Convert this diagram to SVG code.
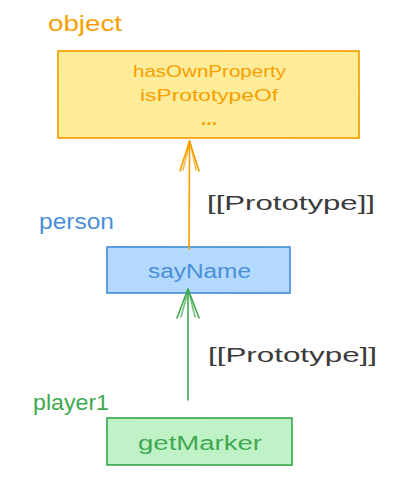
<svg xmlns="http://www.w3.org/2000/svg" width="418" height="503" viewBox="0 0 418 503">
<style>
text{font-family:"Liberation Sans","DejaVu Sans",sans-serif;}
.o{fill:#f59f00;}
.b{fill:#4a8fd8;}
.g{fill:#40a850;}
.d{fill:#3a3a3a;}
.con{fill:none;stroke-width:1.6;stroke-linecap:round;stroke-linejoin:round;}
</style>
<rect width="418" height="503" fill="#ffffff"/>
<g id="object">
<text class="o" x="48" y="31" font-size="22" textLength="74" lengthAdjust="spacingAndGlyphs">object</text>
<rect x="58" y="51" width="301" height="87" fill="#ffec99" stroke="#f59f00" stroke-width="1.6"/>
<path d="M59 50.5 L358 51.5 M57.5 52 L58.5 137 M358.5 50 L359.5 138 M57 137.5 L360 138.5" fill="none" stroke="#f59f00" stroke-width="0.8" opacity="0.6"/>
<text class="o" x="209.5" y="77" font-size="17" text-anchor="middle" textLength="153" lengthAdjust="spacingAndGlyphs">hasOwnProperty</text>
<text class="o" x="209" y="101" font-size="17" text-anchor="middle" textLength="138" lengthAdjust="spacingAndGlyphs">isPrototypeOf</text>
<text class="o" x="209" y="125" font-size="19" font-weight="bold" text-anchor="middle">...</text>
</g>
<g id="person">
<text class="b" x="39" y="229" font-size="22" textLength="75" lengthAdjust="spacingAndGlyphs">person</text>
<rect x="107" y="247" width="183" height="46" fill="#b3d9ff" stroke="#4a8fd8" stroke-width="1.6"/>
<path d="M108 246.5 L289 247.5 M106.5 248 L107.5 292 M289.5 246 L290.5 293 M106 292.5 L291 293.5" fill="none" stroke="#4a8fd8" stroke-width="0.8" opacity="0.6"/>
<text class="b" x="199.5" y="278" font-size="20" text-anchor="middle" textLength="103" lengthAdjust="spacingAndGlyphs">sayName</text>
</g>
<g id="player1">
<text class="g" x="33" y="410" font-size="22" textLength="76" lengthAdjust="spacingAndGlyphs">player1</text>
<rect x="107" y="418" width="185" height="47" fill="#c0f2c8" stroke="#40a850" stroke-width="1.6"/>
<path d="M108 417.5 L291 418.5 M106.5 419 L107.5 464 M291.5 417 L292.5 465 M106 464.5 L293 465.5" fill="none" stroke="#40a850" stroke-width="0.8" opacity="0.6"/>
<text class="g" x="200" y="450" font-size="20" text-anchor="middle" textLength="124" lengthAdjust="spacingAndGlyphs">getMarker</text>
</g>
<g id="connectors">
<g stroke="#f59f00">
<path class="con" d="M189 249 L189.5 141"/>
<path class="con" d="M180 171 L189.5 141 L199 171"/>
<path class="con" d="M183 170 L190 142 L196 170" stroke-width="0.8" opacity="0.7"/>
</g>
<text class="d" x="207" y="210" font-size="20" textLength="168" lengthAdjust="spacingAndGlyphs">[[Prototype]]</text>
<g stroke="#40a850">
<path class="con" d="M188 400 L188 289"/>
<path class="con" d="M177 318 L188 289 L199 318"/>
<path class="con" d="M181 317 L188.5 290 L195 317" stroke-width="0.8" opacity="0.7"/>
</g>
<text class="d" x="208" y="362" font-size="20" textLength="169" lengthAdjust="spacingAndGlyphs">[[Prototype]]</text>
</g>
</svg>
